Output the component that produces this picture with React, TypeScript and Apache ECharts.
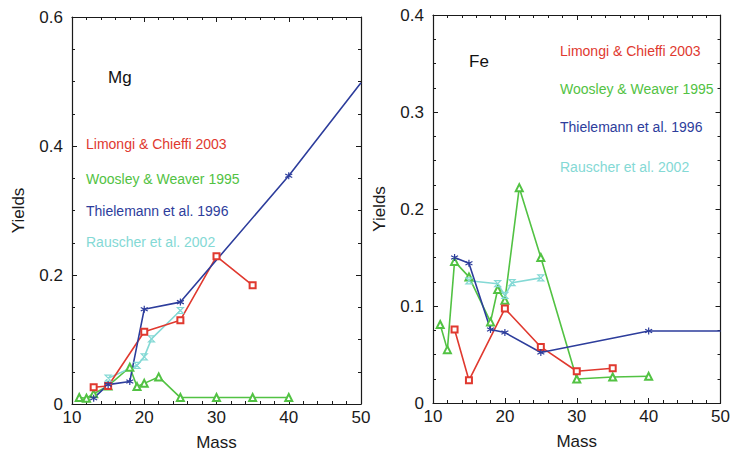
import React, { useEffect, useRef } from "react";
import * as echarts from "echarts";

// ---- Data ----
// Mg yields
const mgLimongiMass = [13, 15, 20, 25, 30, 35];
const mgLimongi = [0.026, 0.028, 0.112, 0.13, 0.229, 0.184];
const mgWoosleyMass = [11, 12, 13, 15, 18, 19, 20, 22, 25, 30, 35, 40];
const mgWoosley = [0.01, 0.009, 0.016, 0.028, 0.057, 0.027, 0.032, 0.042, 0.01, 0.01, 0.01, 0.01];
const mgThielemannMass = [13, 15, 18, 20, 25, 40, 50];
const mgThielemann = [0.009, 0.03, 0.035, 0.147, 0.158, 0.354, 0.498];
const mgRauscherMass = [15, 19, 20, 21, 25];
const mgRauscher = [0.04, 0.06, 0.073, 0.101, 0.145];

// Fe yields
const feLimongiMass = [13, 15, 20, 25, 30, 35];
const feLimongi = [0.0757, 0.0234, 0.0973, 0.0578, 0.0327, 0.0358];
const feWoosleyMass = [11, 12, 13, 15, 18, 19, 20, 22, 25, 30, 35, 40];
const feWoosley = [0.081, 0.055, 0.146, 0.13, 0.0836, 0.117, 0.106, 0.222, 0.15, 0.0248, 0.0268, 0.0275];
const feThielemannMass = [13, 15, 18, 20, 25, 40, 50];
const feThielemann = [0.15, 0.144, 0.0757, 0.0726, 0.052, 0.0743, 0.0743];
const feRauscherMass = [15, 19, 20, 21, 25];
const feRauscher = [0.126, 0.123, 0.111, 0.124, 0.129];

const seriesNames = [
  "Limongi & Chieffi 2003",
  "Woosley & Weaver 1995",
  "Thielemann et al. 1996",
  "Rauscher et al. 2002",
];
const xTicks = [10, 20, 30, 40, 50];

const RED = "#e0392f";
const GREEN = "#52c243";
const BLUE = "#2d3d9c";
const CYAN = "#84d9d5";
const FONT = "'Liberation Sans', Arial, Helvetica, sans-serif";
const AXIS = "#1a1a1a";

const ASTERISK = "path://M0,-1L0,1M-0.87,-0.5L0.87,0.5M-0.87,0.5L0.87,-0.5";
const HOURGLASS = "path://M-1,-1L1,-1L-1,1L1,1Z";

const X_MAX = xTicks[xTicks.length - 1];

function pairs(xs: number[], ys: number[]) {
  // points sitting on the right frame get no marker (clipped in the original)
  return xs.map((x, i) => (x >= X_MAX ? { value: [x, ys[i]], symbolSize: 0 } : [x, ys[i]]));
}

function mkSeries(name: string, xs: number[], ys: number[], color: string, symbol: string, size: number, gi: number) {
  const isPath = symbol.startsWith("path://");
  return {
    type: "line",
    name,
    xAxisIndex: gi * 2,
    yAxisIndex: gi * 2,
    data: pairs(xs, ys),
    symbol,
    symbolSize: size,
    showAllSymbol: true,
    clip: true,
    lineStyle: { color, width: 1.6 },
    itemStyle: isPath
      ? { color: "rgba(0,0,0,0)", borderColor: color, borderWidth: 1.2 }
      : { color, borderColor: color, borderWidth: 1 },
    z: 3,
  };
}

export default function App() {
  const ref = useRef<HTMLDivElement>(null);
  useEffect(() => {
    if (!ref.current) return;
    const chart = echarts.init(ref.current, undefined, { renderer: "svg" });

    const grids = [
      { left: 72, top: 17, width: 289, height: 389 },
      { left: 433, top: 15, width: 289, height: 388 },
    ];

    const labelFmt = (v: number) => (v === 0 ? "0" : v.toFixed(1));

    const xAxisBase = (gi: number, pos: string) => ({
      type: "value",
      gridIndex: gi,
      position: pos,
      min: xTicks[0],
      max: X_MAX,
      interval: 10,
      axisLine: { show: true, onZero: false, lineStyle: { color: AXIS, width: 1.2 } },
      axisTick: { show: true, inside: true, length: 5, lineStyle: { color: AXIS } },
      minorTick: { show: true, splitNumber: 5, length: 3, lineStyle: { color: AXIS } },
      splitLine: { show: false },
      axisLabel: pos === "bottom"
        ? { show: true, color: "#1a1a1a", fontSize: 17, fontFamily: FONT, margin: 5 }
        : { show: false },
      name: pos === "bottom" ? "Mass" : "",
      nameLocation: "middle",
      nameGap: 30,
      nameTextStyle: { color: "#1a1a1a", fontSize: 17, fontFamily: FONT, fontWeight: "normal" },
    });

    const yAxisBase = (gi: number, pos: string, max: number, interval: number) => ({
      type: "value",
      gridIndex: gi,
      position: pos,
      min: 0,
      max,
      interval,
      axisLine: { show: true, onZero: false, lineStyle: { color: AXIS, width: 1.2 } },
      axisTick: { show: true, inside: true, length: 5, lineStyle: { color: AXIS } },
      minorTick: { show: true, splitNumber: 4, length: 3, lineStyle: { color: AXIS } },
      splitLine: { show: false },
      axisLabel: pos === "left"
        ? { show: true, color: "#1a1a1a", fontSize: 17, fontFamily: FONT, margin: 9, formatter: labelFmt }
        : { show: false },
      name: pos === "left" ? "Yields" : "",
      nameLocation: "middle",
      nameGap: 45,
      nameRotate: 90,
      nameTextStyle: { color: "#1a1a1a", fontSize: 17, fontFamily: FONT, fontWeight: "normal" },
    });

    const legendText = (x: number, y: number, text: string, color: string) => ({
      type: "text",
      x,
      y,
      silent: true,
      style: { text, fill: color, fontSize: 14, fontFamily: FONT, verticalAlign: "middle", align: "left" },
    });

    const option = {
      animation: false,
      backgroundColor: "#ffffff",
      grid: grids,
      xAxis: [xAxisBase(0, "bottom"), xAxisBase(0, "top"), xAxisBase(1, "bottom"), xAxisBase(1, "top")],
      yAxis: [
        yAxisBase(0, "left", 0.6, 0.2),
        yAxisBase(0, "right", 0.6, 0.2),
        yAxisBase(1, "left", 0.4, 0.1),
        yAxisBase(1, "right", 0.4, 0.1),
      ],
      series: [
        mkSeries(seriesNames[1], mgWoosleyMass, mgWoosley, GREEN, "emptyTriangle", 7, 0),
        mkSeries(seriesNames[3], mgRauscherMass, mgRauscher, CYAN, HOURGLASS, 6, 0),
        mkSeries(seriesNames[0], mgLimongiMass, mgLimongi, RED, "emptyRect", 6, 0),
        mkSeries(seriesNames[2], mgThielemannMass, mgThielemann, BLUE, ASTERISK, 7, 0),
        mkSeries(seriesNames[1], feWoosleyMass, feWoosley, GREEN, "emptyTriangle", 7, 1),
        mkSeries(seriesNames[3], feRauscherMass, feRauscher, CYAN, HOURGLASS, 6, 1),
        mkSeries(seriesNames[0], feLimongiMass, feLimongi, RED, "emptyRect", 6, 1),
        mkSeries(seriesNames[2], feThielemannMass, feThielemann, BLUE, ASTERISK, 7, 1),
      ],
      graphic: [
        {
          type: "text",
          x: 108,
          y: 77,
          silent: true,
          style: { text: "Mg", fill: "#111", fontSize: 17, fontFamily: FONT, verticalAlign: "middle" },
        },
        {
          type: "text",
          x: 469,
          y: 61,
          silent: true,
          style: { text: "Fe", fill: "#111", fontSize: 17, fontFamily: FONT, verticalAlign: "middle" },
        },
        legendText(86, 144, seriesNames[0], RED),
        legendText(86, 179, seriesNames[1], GREEN),
        legendText(86, 211, seriesNames[2], BLUE),
        legendText(86, 242, seriesNames[3], CYAN),
        legendText(560, 51, seriesNames[0], RED),
        legendText(560, 89, seriesNames[1], GREEN),
        legendText(560, 127, seriesNames[2], BLUE),
        legendText(560, 167, seriesNames[3], CYAN),
      ],
    };

    chart.setOption(option as any);
    return () => chart.dispose();
  }, []);

  return (
    <div
      ref={ref}
      style={{ position: "fixed", left: 0, top: 0, width: 733, height: 456, background: "#fff" }}
    />
  );
}
